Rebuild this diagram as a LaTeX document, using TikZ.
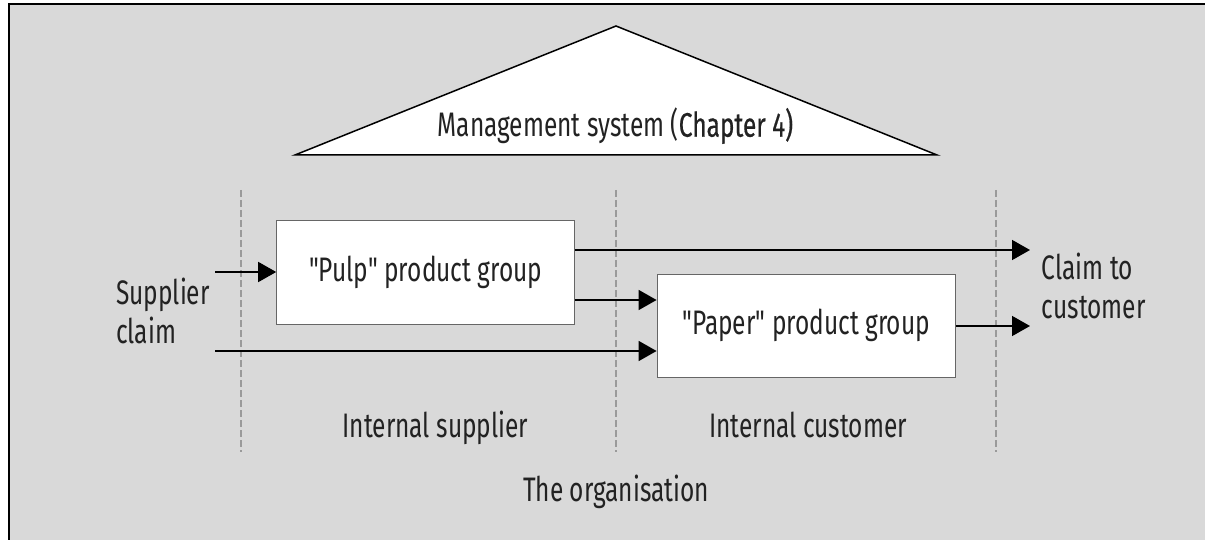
\documentclass[tikz,border=0pt]{standalone}
\usepackage{fontspec}
\setmainfont{Fira Sans}[FakeStretch=0.72,Ligatures=TeXOff]
\newfontfamily\medfont{Fira Sans}[FakeStretch=0.72,FakeBold=0.5,Ligatures=TeXOff]
\usetikzlibrary{arrows.meta}
\definecolor{bggray}{HTML}{D9D9D9}
\definecolor{txt}{HTML}{222222}
\definecolor{boxline}{HTML}{666666}
\definecolor{dashgray}{HTML}{9A9A9A}
\tikzset{
  lbl/.style={inner sep=0pt, text=txt, font=\fontsize{34}{39}\selectfont},
  groupbox/.style={draw=boxline, line width=1.2pt, fill=white, inner sep=0pt, text=txt,
    font=\fontsize{34}{39}\selectfont},
  flow/.style={line width=1.6pt, -{Triangle[length=18pt,width=20pt]}},
  divider/.style={draw=dashgray, line width=1.1pt, dash pattern=on 7pt off 3pt},
}
\begin{document}
\begin{tikzpicture}[x=1pt,y=-1pt]
\useasboundingbox (0,0) rectangle (1205,540);
% background frame
\fill[bggray] (9,4) rectangle (1205,540);
\draw[line width=1.6pt] (9,540) -- (9,4) -- (1205,4);
% management triangle
\draw[line width=1.5pt, fill=white, line join=miter] (295,155) -- (616,26) -- (937,155) -- cycle;
\node (mgmt) [lbl, anchor=base] at (615.5,136.7) {Management system (\medfont Chapter 4)};
% dividers
\draw[divider] (241,190) -- (241,452);
\draw[divider] (616,190) -- (616,452);
\draw[divider] (996,190) -- (996,452);
% boxes
\node (pulp) [groupbox, minimum width=298pt, minimum height=104pt] at (425.8,272.8) {"Pulp" product group};
\node (paper) [groupbox, minimum width=298pt, minimum height=103pt] at (806.2,325.7) {"Paper" product group};
% labels (base anchor = baseline of last line)
\node (supplier) [lbl, align=left, anchor=base west] at (116,343.3) {Supplier\\claim};
\node (claim) [lbl, align=left, anchor=base west] at (1041.7,318) {Claim to\\customer};
\node (intsup) [lbl, anchor=base] at (435.5,437.3) {Internal supplier};
\node (intcus) [lbl, anchor=base] at (808,437.3) {Internal customer};
\node (org) [lbl, anchor=base] at (616,501.7) {The organisation};
% connector endpoints
\coordinate (s1) at (215,272);
\coordinate (s2) at (215,351);
\coordinate (p3) at (600,300);
\coordinate (c1) at (1030,250);
\coordinate (c2) at (1030,326);
% flows
\draw[flow] (s1) -- (pulp.west |- s1);
\draw[flow] (pulp.east |- c1) -- (c1);
\draw[flow] (pulp.east |- p3) -- (paper.west |- p3);
\draw[flow] (s2) -- (paper.west |- s2);
\draw[flow] (paper.east |- c2) -- (c2);
\end{tikzpicture}
\end{document}
